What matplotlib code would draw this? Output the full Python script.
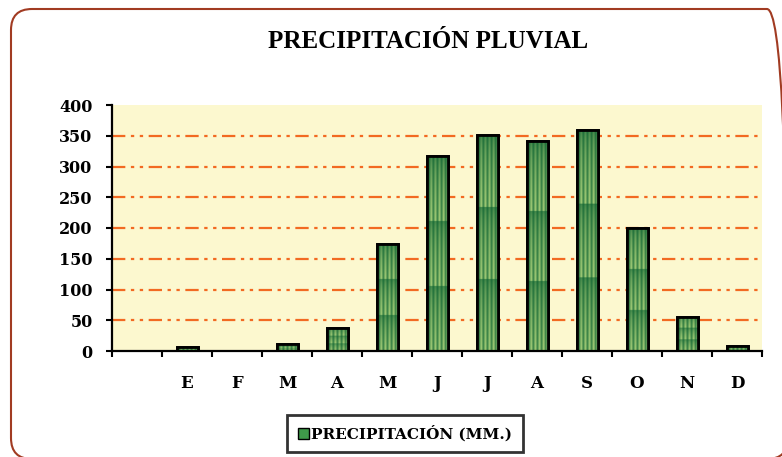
import numpy as np
import matplotlib
matplotlib.use("Agg")
import matplotlib.pyplot as plt
from matplotlib.patches import FancyBboxPatch
from matplotlib.colors import to_rgb

meses = ['E', 'F', 'M', 'A', 'M', 'J', 'J', 'A', 'S', 'O', 'N', 'D']
precip = [6, 0, 12, 37, 174, 317, 351, 341, 359, 200, 56, 8]
categorias = [''] + meses
yticks = [0, 50, 100, 150, 200, 250, 300, 350, 400]

verde_osc = np.array(to_rgb('#0a6030'))
verde_cla = np.array(to_rgb('#a6cf78'))

W, H = 782, 457
fig = plt.figure(figsize=(W / 100, H / 100), dpi=100)
ax = fig.add_axes([112 / W, 1 - 351 / H, 650 / W, 246 / H])
ax.set_facecolor('#fcf8cf')

pos = np.arange(1, len(meses) + 1)
bars = ax.bar(pos, precip, width=0.42, color='#3f9a4a', edgecolor='black',
              linewidth=2, zorder=2, label='PRECIPITACIÓN (MM.)')

# textura: rayas verticales y tres bandas por barra
nx, ny = 42, 300
xs = np.linspace(0, 1, nx)
rayas = 0.5 + 0.5 * np.cos(xs * 2 * np.pi * 5)
ys = np.linspace(0, 1, ny)
bandas = (ys * 3) % 1.0  # 0 arriba de cada banda (oscuro), 1 abajo
for rect, val in zip(bars, precip):
    if val <= 0:
        continue
    t = (0.3 + 0.7 * np.sqrt(bandas[:, None])) * (0.3 + 0.7 * rayas[None, :])
    img = verde_osc + (verde_cla - verde_osc) * t[..., None]
    x0 = rect.get_x()
    w = rect.get_width()
    im = ax.imshow(img, extent=(x0, x0 + w, 0, val), origin='upper',
                   aspect='auto', zorder=2.5, interpolation='bilinear')
    im.set_clip_path(rect)
ax.bar(pos, precip, width=0.42, fill=False, edgecolor='black',
       linewidth=2, zorder=3)

ax.set_xlim(-0.5, len(categorias) - 0.5)
ax.set_ylim(0, 400)
ax.set_yticks(yticks)
ax.set_yticklabels([str(v) for v in yticks])
ax.set_xticks(np.arange(-0.5, len(categorias)), [''] * (len(categorias) + 1))
ax.set_xticks(np.arange(len(categorias)), categorias, minor=True)
ax.tick_params(axis='x', which='major', length=4, width=1.5, direction='out')
ax.tick_params(axis='x', which='minor', length=0, pad=17)
ax.tick_params(axis='y', length=4, width=1.5, direction='out', pad=10)
for lab in ax.get_yticklabels():
    lab.set_fontfamily('DejaVu Serif')
    lab.set_fontweight('bold')
    lab.set_fontsize(11.5)
for lab in ax.get_xticklabels(minor=True):
    lab.set_fontfamily('DejaVu Serif')
    lab.set_fontweight('bold')
    lab.set_fontsize(12)

ax.grid(axis='y', color='#f26a22', linewidth=1.6,
        linestyle=(0, (6, 2.5, 1.5, 2.5, 1.5, 2.5)), zorder=1)
gl = ax.get_ygridlines()
gl[0].set_visible(False)
gl[-1].set_visible(False)

for s in ['top', 'right']:
    ax.spines[s].set_visible(False)
for s in ['left', 'bottom']:
    ax.spines[s].set_linewidth(1.6)
    ax.spines[s].set_zorder(4)

fig.text(428 / W, 1 - 42 / H, 'PRECIPITACIÓN PLUVIAL', ha='center',
         va='center', fontsize=18, fontweight='bold', family='Liberation Serif')

leg = fig.legend(handles=[bars], labels=['PRECIPITACIÓN (MM.)'],
                 loc='center', bbox_to_anchor=(405 / W, 23.5 / H),
                 frameon=True, fancybox=False, edgecolor='black',
                 handlelength=0.75, handleheight=0.75, handletextpad=0.15,
                 borderpad=0.7, borderaxespad=0,
                 prop={'family': 'DejaVu Serif', 'weight': 'bold', 'size': 11})
leg.get_frame().set_linewidth(2)
leg.legend_handles[0].set_linewidth(1)

# marco redondeado (se sale por la derecha y por abajo)
borde = FancyBboxPatch((11 / W, -2 / H), (788 - 11) / W, 450 / H,
                       boxstyle='round,pad=0,rounding_size=%f' % (21 / W),
                       mutation_aspect=W / H, transform=fig.transFigure,
                       fill=False, edgecolor='#a13b22', linewidth=1.5)
fig.patches.append(borde)

fig.savefig('out.png', dpi=100)
